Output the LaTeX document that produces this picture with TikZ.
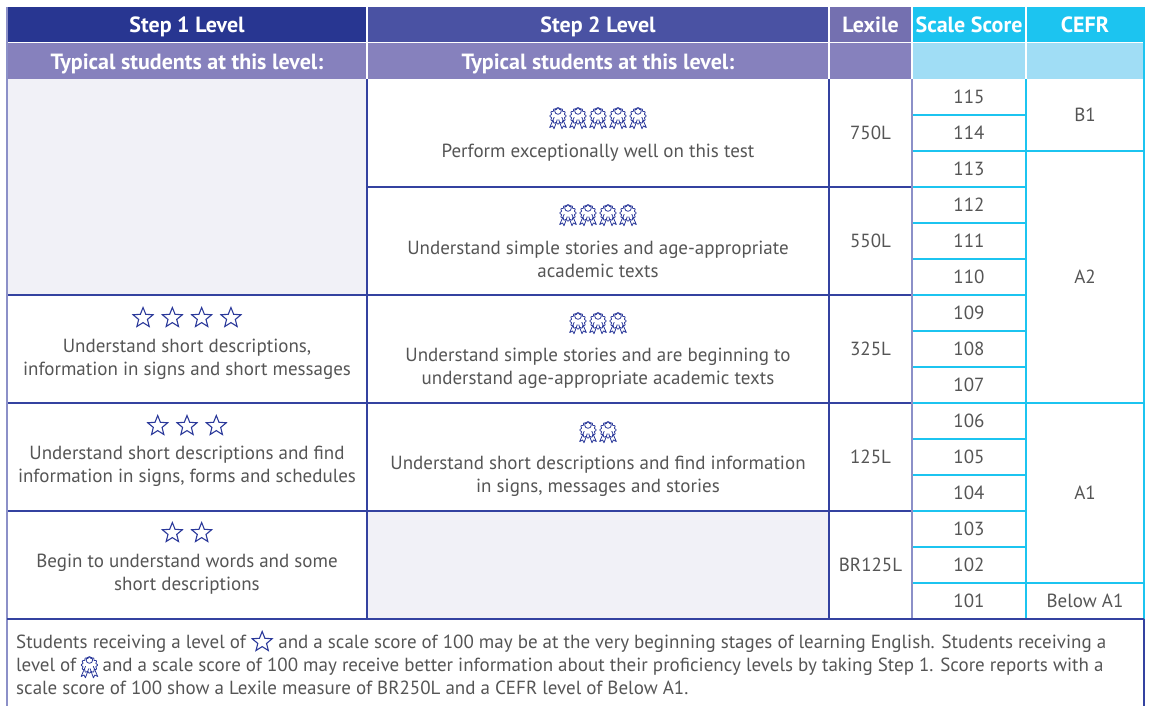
\documentclass[tikz,border=0pt]{standalone}
\usepackage{fontspec}
\setmainfont{PT Sans}
\usetikzlibrary{calc,positioning}
\definecolor{StepOneClr}{RGB}{40,54,145}
\definecolor{StepTwoClr}{RGB}{74,82,163}
\definecolor{LexileClr}{RGB}{116,112,176}
\definecolor{SubHeadClr}{RGB}{134,129,189}
\definecolor{CyanClr}{RGB}{28,196,240}
\definecolor{LightCyanClr}{RGB}{160,221,245}
\definecolor{EmptyClr}{RGB}{241,241,247}
\definecolor{GridClr}{RGB}{52,66,160}
\definecolor{SideClr}{RGB}{140,144,200}
\definecolor{TextClr}{RGB}{85,85,85}
\definecolor{IconClr}{RGB}{43,57,154}
\newcommand{\bodysize}{\fontsize{19}{23}\selectfont}

\begin{document}
\begin{tikzpicture}[x=1pt,y=-1pt,
  headtext/.style={text=white,font=\bfseries\fontsize{22}{26}\selectfont,anchor=base,inner sep=0pt},
  cell/.style={text=TextClr,font=\bodysize,align=center,inner sep=0pt},
  notetext/.style={text=TextClr,font=\bodysize,inner sep=0pt,anchor=base west},
  gridline/.style={GridClr,line width=1.3pt},
  cyanline/.style={CyanClr,line width=1.3pt},
  sepline/.style={white,line width=1.2pt},
  star/.pic={\draw[IconClr,line width=1.1pt,line join=miter]
     (-90:10.5) \foreach \k in {1,...,9}{-- ({-90+36*\k}:{ifthenelse(mod(\k,2)==1,4.6,10.5)})} -- cycle;},
  medal/.pic={
     \draw[IconClr,line width=0.8pt] plot[domain=0:360,samples=145] ({\x}:{7.4+0.7*cos(12*\x)}) -- cycle;
     \draw[IconClr,line width=0.8pt] (0,-5) circle (3.3);
     \draw[IconClr,line width=0.8pt,line join=round] (-3.8,1.2) -- (-8.3,11.5) -- (-5.4,10) -- (-4,12.8) -- (-0.7,3.6);
     \draw[IconClr,line width=0.8pt,line join=round] (3.8,1.2) -- (8.3,11.5) -- (5.4,10) -- (4,12.8) -- (0.7,3.6);
  }]
\useasboundingbox (0,0) rectangle (1149,705);

% Header fills.
\fill[StepOneClr] (7,7) rectangle (367,42.5);
\fill[StepTwoClr] (367,7) rectangle (829,42.5);
\fill[LexileClr] (829,7) rectangle (912,42.5);
\fill[CyanClr] (912,7) rectangle (1144,42.5);
\fill[SubHeadClr] (7,42.5) rectangle (912,79);
\fill[LightCyanClr] (912,42.5) rectangle (1144,79);
\draw[sepline] (7,42.5) -- (1144,42.5);
\foreach \x in {367,829,912,1026} \draw[sepline] (\x,7) -- (\x,79);

% Empty cells.
\fill[EmptyClr] (7,79) rectangle (367,295);
\fill[EmptyClr] (367,511) rectangle (829,619);

% Scale score and CEFR grid.
\foreach \k in {1,...,14} \draw[cyanline] (912,{79+36*\k}) -- (1026,{79+36*\k});
\foreach \y in {151,403,583} \draw[cyanline] (1026,\y) -- (1144,\y);
\draw[cyanline] (1026,79) -- (1026,619);
\draw[cyanline] (1144,7) -- (1144,619);

% Level grid.
\draw[gridline] (367,187) -- (912,187);
\foreach \y in {295,403,511} \draw[gridline] (7,\y) -- (912,\y);
\draw[gridline] (367,79) -- (367,619);
\draw[gridline] (829,79) -- (829,619);
\draw[SideClr,line width=2.4pt] (912,79) -- (912,619);
\draw[SideClr,line width=2pt] (7,7) -- (7,706);
\draw[gridline] (7,619) -- (1144,619);
\draw[gridline] (1144,619) -- (1144,706);

% Header texts.
\node[headtext] (hstepone) at (187,32.3) {Step 1 Level};
\node[headtext] (hsteptwo) at (598,32.3) {Step 2 Level};
\node[headtext] (hlexile) at (870.5,32.3) {Lexile};
\node[headtext] (hscale) at (969,32.3) {Scale Score};
\node[headtext] (hcefr) at (1085,32.3) {CEFR};
\node[headtext] (htypone) at (187,69.3) {Typical students at this level:};
\node[headtext] (htyptwo) at (598,69.3) {Typical students at this level:};

% Icons.
\foreach \n/\y in {4/318,3/426,2/533}
  \foreach \i in {1,...,\n} \pic at ({187+29.3*(\i-(\n+1)/2)},\y) {star};
\foreach \n/\y in {5/116,4/213,3/321,2/430}
  \foreach \i in {1,...,\n} \pic at ({598+20*(\i-(\n+1)/2)},\y) {medal};

% Step 1 texts.
\node[cell] (stepone4) at (187,359.5) {Understand short descriptions,\\information in signs and short messages};
\node[cell] (stepone3) at (187,466.5) {Understand short descriptions and find\\information in signs, forms and schedules};
\node[cell] (stepone2) at (187,574.5) {Begin to understand words and some\\short descriptions};

% Step 2 texts.
\node[cell] (steptwo5) at (598,153) {Perform exceptionally well on this test};
\node[cell] (steptwo4) at (598,259.5) {Understand simple stories and age-appropriate\\academic texts};
\node[cell] (steptwo3) at (598,368.5) {Understand simple stories and are beginning to\\understand age-appropriate academic texts};
\node[cell] (steptwo2) at (598,476.5) {Understand short descriptions and find information\\in signs, messages and stories};

% Lexile measures.
\foreach \l/\y in {750L/133,550L/241,325L/349,125L/457,BR125L/565}
  \node[cell] (lex\l) at (870.5,\y) {\l};

% Scale scores.
\foreach \s in {115,...,101}
  \node[cell] (score\s) at (969,{97+36*(115-\s)}) {\s};

% CEFR levels.
\node[cell] (cefrB1) at (1085,115) {B1};
\node[cell] (cefrA2) at (1085,277) {A2};
\node[cell] (cefrA1) at (1085,493) {A1};
\node[cell] (cefrpre) at (1085,601) {Below A1};

% Note.
\node[notetext] (noteonea) at (16,648) {Students receiving a level of};
\pic at ($(noteonea.base east)+(16,-6)$) {star};
\node[notetext,right=32pt of noteonea.base east,anchor=base west] (noteoneb) {and a scale score of 100 may be at the very beginning stages of learning English. Students receiving a};
\node[notetext] (notetwoa) at (16,671) {level of};
\pic at ($(notetwoa.base east)+(13,-6)$) {medal};
\node[notetext,right=26pt of notetwoa.base east,anchor=base west] (notetwob) {and a scale score of 100 may receive better information about their proficiency levels by taking Step 1. Score reports with a};
\node[notetext] (notethree) at (16,694) {scale score of 100 show a Lexile measure of BR250L and a CEFR level of Below A1.};

\end{tikzpicture}
\end{document}
